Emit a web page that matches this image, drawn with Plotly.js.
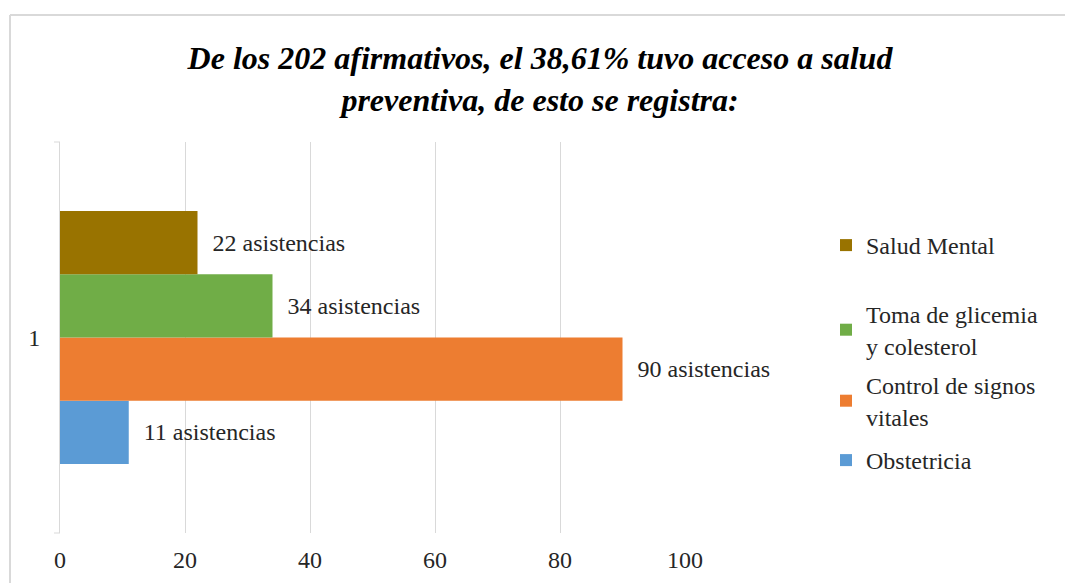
<!DOCTYPE html>
<html>
<head>
<meta charset="utf-8">
<script src="https://cdn.plot.ly/plotly-3.0.1.min.js"></script>
<style>html,body{margin:0;padding:0;background:#fff;}#chart{width:1065px;height:583px;}</style>
</head>
<body>
<div id="chart"></div>
<script>
// Data (reference order, top to bottom)
const category = ['1'];
const seriesNames = ['Salud Mental', 'Toma de glicemia<br>y colesterol', 'Control de signos<br>vitales', 'Obstetricia'];
const seriesValues = [22, 34, 90, 11];
const labelSuffix = ' asistencias';
const xTicks = [0, 20, 40, 60, 80, 100];
const titleText = '<b><i>De los 202 afirmativos, el 38,61% tuvo acceso a salud<br>preventiva, de esto se registra:</i></b>';

const seriesColors = ['#997300', '#70ad47', '#ed7d31', '#5b9bd5'];
const legendTextY = [245, 314, 385, 460]; // pixel centre of first legend line
const FONT = 'Liberation Serif, Times New Roman, serif';
const FS = 24;

const L = 60, R = 685, T = 142, B = 533;
const px = v => (v - L) / (R - L);
const py = v => (B - v) / (B - T);

// Plotly stacks grouped horizontal bars bottom-up, so add traces in reverse.
const traces = [];
const legendKeys = ['legend', 'legend2', 'legend3', 'legend4'];
for (let i = seriesNames.length - 1; i >= 0; i--) {
  traces.push({
    type: 'bar',
    orientation: 'h',
    name: seriesNames[i],
    legend: legendKeys[i],
    y: category,
    x: [seriesValues[i]],
    text: ['\u00a0\u00a0' + seriesValues[i] + labelSuffix],
    textposition: 'outside',
    textfont: {family: FONT, size: FS, color: '#262626'},
    constraintext: 'none',
    cliponaxis: false,
    marker: {color: seriesColors[i], line: {width: 0}},
    hoverinfo: 'x+name'
  });
}

const layout = {
  width: 1065, height: 583,
  margin: {l: L, r: 1065 - R, t: T, b: 583 - B, pad: 0},
  paper_bgcolor: '#ffffff', plot_bgcolor: '#ffffff',
  font: {family: FONT, size: FS, color: '#262626'},
  title: {
    text: titleText,
    font: {family: FONT, size: 32, color: '#000000'},
    xref: 'container', x: 540 / 1065, xanchor: 'center',
    yref: 'container', y: 1 - 69 / 583, yanchor: 'middle'
  },
  barmode: 'group',
  bargap: 0.353,
  bargroupgap: 0,
  xaxis: {
    range: [0, 100],
    tickvals: xTicks,
    ticktext: xTicks.map(String),
    showgrid: true, gridcolor: '#d9d9d9', gridwidth: 1,
    zeroline: false, showline: false,
    ticks: '', ticklabelstandoff: 10,
    tickfont: {family: FONT, size: FS, color: '#262626'},
    fixedrange: true
  },
  yaxis: {
    type: 'category',
    showgrid: false, zeroline: false,
    showline: true, linecolor: '#d9d9d9', linewidth: 1,
    ticks: '', ticklabelstandoff: 14,
    tickfont: {family: FONT, size: FS, color: '#262626'},
    fixedrange: true
  },
  showlegend: true,
  shapes: [
    {type: 'line', xref: 'paper', yref: 'paper', x0: px(10), x1: px(1070), y0: py(15), y1: py(15), line: {color: '#d9d9d9', width: 2}},
    {type: 'line', xref: 'paper', yref: 'paper', x0: px(10), x1: px(10), y0: py(15), y1: py(590), line: {color: '#d9d9d9', width: 2}},
    {type: 'line', xref: 'paper', yref: 'paper', x0: px(54), x1: 0, y0: 1, y1: 1, line: {color: '#d9d9d9', width: 1}},
    {type: 'line', xref: 'paper', yref: 'paper', x0: px(54), x1: 0, y0: 0, y1: 0, line: {color: '#d9d9d9', width: 1}}
  ]
};

legendKeys.forEach((k, i) => {
  layout[k] = {
    x: px(826), xanchor: 'left',
    y: py(legendTextY[i] - 22), yanchor: 'top',
    font: {family: FONT, size: FS, color: '#262626'},
    bgcolor: 'rgba(0,0,0,0)'
  };
});

Plotly.newPlot('chart', traces, layout, {displayModeBar: false, staticPlot: true});
</script>
</body>
</html>
